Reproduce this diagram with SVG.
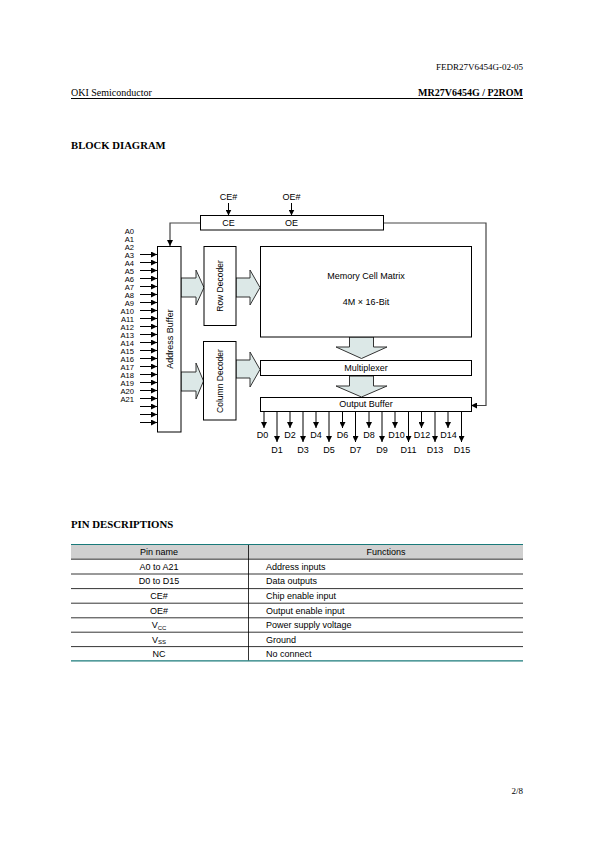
<svg xmlns="http://www.w3.org/2000/svg" width="595" height="842" viewBox="0 0 595 842">
<defs>
<marker id="ah" viewBox="0 0 6 6" refX="6" refY="3" markerWidth="6" markerHeight="6" markerUnits="userSpaceOnUse" orient="auto">
<path d="M0,0 L6,3 L0,6 Z" fill="#000"/>
</marker>
</defs>
<style>
.t{font-family:"Liberation Serif","Times New Roman",serif;fill:#000}
.s{font-family:"Liberation Sans",Arial,sans-serif;fill:#000}
.box{fill:#fff;stroke:#000;stroke-width:1}
.big{fill:#dce8e7;stroke:#333;stroke-width:1}
.ln{fill:none;stroke:#000;stroke-width:1}
.al{fill:none;stroke:#000;stroke-width:1;marker-end:url(#ah)}
.al2{fill:none;stroke:#444;stroke-width:1.2;marker-end:url(#ah)}
</style>
<rect width="595" height="842" fill="#fff"/>

<g id="header">
<text class="t" x="523" y="70" font-size="9" text-anchor="end">FEDR27V6454G-02-05</text>
<text class="t" x="71" y="96" font-size="10">OKI Semiconductor</text>
<text class="t" x="523" y="96" font-size="10" font-weight="bold" text-anchor="end">MR27V6454G / P2ROM</text>
<line x1="71" y1="98.5" x2="523" y2="98.5" stroke="#000" stroke-width="1.2"/>
<text class="t" x="71" y="149" font-size="10.7" font-weight="bold">BLOCK DIAGRAM</text>
</g>

<g id="connectors">
<path class="al2" d="M200,223 H170 V246"/>
<path class="al2" d="M383,223 H486 V405.5 H471"/>
<line class="al" x1="228.5" y1="203" x2="228.5" y2="215.5"/>
<line class="al" x1="291.5" y1="203" x2="291.5" y2="215.5"/>
<g id="addr-arrows">
<line class="al" x1="140" y1="254.5" x2="157" y2="254.5"/>
<line class="al" x1="140" y1="262.5" x2="157" y2="262.5"/>
<line class="al" x1="140" y1="270.5" x2="157" y2="270.5"/>
<line class="al" x1="140" y1="278.5" x2="157" y2="278.5"/>
<line class="al" x1="140" y1="286.5" x2="157" y2="286.5"/>
<line class="al" x1="140" y1="294.5" x2="157" y2="294.5"/>
<line class="al" x1="140" y1="302.5" x2="157" y2="302.5"/>
<line class="al" x1="140" y1="310.5" x2="157" y2="310.5"/>
<line class="al" x1="140" y1="318.5" x2="157" y2="318.5"/>
<line class="al" x1="140" y1="326.5" x2="157" y2="326.5"/>
<line class="al" x1="140" y1="334.5" x2="157" y2="334.5"/>
<line class="al" x1="140" y1="342.5" x2="157" y2="342.5"/>
<line class="al" x1="140" y1="350.5" x2="157" y2="350.5"/>
<line class="al" x1="140" y1="358.5" x2="157" y2="358.5"/>
<line class="al" x1="140" y1="366.5" x2="157" y2="366.5"/>
<line class="al" x1="140" y1="374.5" x2="157" y2="374.5"/>
<line class="al" x1="140" y1="382.5" x2="157" y2="382.5"/>
<line class="al" x1="140" y1="390.5" x2="157" y2="390.5"/>
<line class="al" x1="140" y1="398.5" x2="157" y2="398.5"/>
<line class="al" x1="140" y1="406.5" x2="157" y2="406.5"/>
<line class="al" x1="140" y1="414.5" x2="157" y2="414.5"/>
<line class="al" x1="140" y1="422.5" x2="157" y2="422.5"/>
</g>
<g id="data-arrows">
<line class="al" x1="264" y1="411.5" x2="264" y2="428"/>
<line class="al" x1="277" y1="411.5" x2="277" y2="442"/>
<line class="al" x1="290" y1="411.5" x2="290" y2="428"/>
<line class="al" x1="303" y1="411.5" x2="303" y2="442"/>
<line class="al" x1="316" y1="411.5" x2="316" y2="428"/>
<line class="al" x1="329" y1="411.5" x2="329" y2="442"/>
<line class="al" x1="342.5" y1="411.5" x2="342.5" y2="428"/>
<line class="al" x1="355.5" y1="411.5" x2="355.5" y2="442"/>
<line class="al" x1="369" y1="411.5" x2="369" y2="428"/>
<line class="al" x1="382" y1="411.5" x2="382" y2="442"/>
<line class="al" x1="395" y1="411.5" x2="395" y2="428"/>
<line class="al" x1="408.5" y1="411.5" x2="408.5" y2="442"/>
<line class="al" x1="421.5" y1="411.5" x2="421.5" y2="428"/>
<line class="al" x1="435" y1="411.5" x2="435" y2="442"/>
<line class="al" x1="448" y1="411.5" x2="448" y2="428"/>
<line class="al" x1="461.5" y1="411.5" x2="461.5" y2="442"/>
</g>
<g id="bus-arrows">
<path class="big" d="M181,278 H196 V270 L204,287.5 L196,305 V297 H181 Z"/>
<path class="big" d="M236,278 H250 V270 L260,287.5 L250,305 V297 H236 Z"/>
<path class="big" d="M181,372 H196 V363 L203.5,381 L196,399 V391 H181 Z"/>
<path class="big" d="M236,360 H250 V352 L260,369.5 L250,387 V378 H236 Z"/>
<path class="big" d="M349.5,337 V347 H336 L361.5,358.5 L387,347 H373.5 V337 Z"/>
<path class="big" d="M349.5,376 V386 H336 L361.5,397 L387,386 H373.5 V376 Z"/>
</g>
</g>

<g id="ctrl">
<rect class="box" x="200.5" y="215.5" width="183" height="14.5"/>
<text class="s" x="228.5" y="226" font-size="9" text-anchor="middle">CE</text>
<text class="s" x="291.5" y="226" font-size="9" text-anchor="middle">OE</text>
<text class="s" x="228.5" y="199.5" font-size="9" text-anchor="middle">CE#</text>
<text class="s" x="291.5" y="199.5" font-size="9" text-anchor="middle">OE#</text>
</g>

<g id="addr-labels" class="s" font-size="7.6" text-anchor="end">
<text x="134" y="234.4">A0</text>
<text x="134" y="242.4">A1</text>
<text x="134" y="250.4">A2</text>
<text x="134" y="258.4">A3</text>
<text x="134" y="266.4">A4</text>
<text x="134" y="274.4">A5</text>
<text x="134" y="282.4">A6</text>
<text x="134" y="290.4">A7</text>
<text x="134" y="298.4">A8</text>
<text x="134" y="306.4">A9</text>
<text x="134" y="314.4">A10</text>
<text x="134" y="322.4">A11</text>
<text x="134" y="330.4">A12</text>
<text x="134" y="338.4">A13</text>
<text x="134" y="346.4">A14</text>
<text x="134" y="354.4">A15</text>
<text x="134" y="362.4">A16</text>
<text x="134" y="370.4">A17</text>
<text x="134" y="378.4">A18</text>
<text x="134" y="386.4">A19</text>
<text x="134" y="394.4">A20</text>
<text x="134" y="402.4">A21</text>
</g>

<g id="address-buffer">
<rect class="box" x="157.5" y="246.5" width="23.5" height="185.5"/>
<text class="s" font-size="9" text-anchor="middle" transform="translate(172.5,339) rotate(-90)">Address Buffer</text>
</g>
<g id="row-decoder">
<rect class="box" x="204" y="246.5" width="32" height="79"/>
<text class="s" font-size="8.5" text-anchor="middle" transform="translate(223,286) rotate(-90)">Row Decoder</text>
</g>
<g id="column-decoder">
<rect class="box" x="203.5" y="341.5" width="32.5" height="78.5"/>
<text class="s" font-size="8.5" text-anchor="middle" transform="translate(222.5,381) rotate(-90)">Column Decoder</text>
</g>
<g id="memory">
<rect class="box" x="260.5" y="246.5" width="211" height="90.5"/>
<text class="s" x="366" y="279" font-size="9" text-anchor="middle">Memory Cell Matrix</text>
<text class="s" x="366" y="305" font-size="9" text-anchor="middle">4M × 16-Bit</text>
</g>
<g id="multiplexer">
<rect class="box" x="260.5" y="360.5" width="211" height="15"/>
<text class="s" x="366" y="371.3" font-size="9" text-anchor="middle">Multiplexer</text>
</g>
<g id="output-buffer">
<rect class="box" x="260.5" y="397.5" width="211" height="14"/>
<text class="s" x="366" y="407.3" font-size="9" text-anchor="middle">Output Buffer</text>
</g>

<g id="data-labels" class="s" font-size="9" text-anchor="middle">
<text x="262.5" y="437.5">D0</text>
<text x="277" y="453">D1</text>
<text x="290" y="437.5">D2</text>
<text x="303" y="453">D3</text>
<text x="316" y="437.5">D4</text>
<text x="329" y="453">D5</text>
<text x="342.5" y="437.5">D6</text>
<text x="355.5" y="453">D7</text>
<text x="369" y="437.5">D8</text>
<text x="382" y="453">D9</text>
<text x="396.5" y="437.5">D10</text>
<text x="408.5" y="453">D11</text>
<text x="422" y="437.5">D12</text>
<text x="435" y="453">D13</text>
<text x="448.5" y="437.5">D14</text>
<text x="462" y="453">D15</text>
</g>

<g id="pin-table">
<text class="t" x="71" y="528" font-size="10.8" font-weight="bold">PIN DESCRIPTIONS</text>
<rect x="71" y="544.5" width="452" height="14.5" fill="#d0d0d0"/>
<line x1="71" y1="544.5" x2="523" y2="544.5" stroke="#1a7a7a" stroke-width="1.2"/>
<line x1="71" y1="660.8" x2="523" y2="660.8" stroke="#1a7a7a" stroke-width="1.2"/>
<g stroke="#000" stroke-width="0.8">
<line x1="71" y1="559.2" x2="523" y2="559.2"/>
<line x1="71" y1="574" x2="523" y2="574"/>
<line x1="71" y1="588.6" x2="523" y2="588.6"/>
<line x1="71" y1="603.2" x2="523" y2="603.2"/>
<line x1="71" y1="617.8" x2="523" y2="617.8"/>
<line x1="71" y1="632.2" x2="523" y2="632.2"/>
<line x1="71" y1="646.6" x2="523" y2="646.6"/>
<line x1="248.5" y1="545" x2="248.5" y2="660.3"/>
</g>
<g class="s" font-size="9">
<text x="159" y="555" text-anchor="middle">Pin name</text>
<text x="386" y="555" text-anchor="middle">Functions</text>
<text x="159" y="569.8" text-anchor="middle">A0 to A21</text>
<text x="159" y="584.4" text-anchor="middle">D0 to D15</text>
<text x="159" y="599" text-anchor="middle">CE#</text>
<text x="159" y="613.6" text-anchor="middle">OE#</text>
<text x="159" y="628.2" text-anchor="middle">V<tspan font-size="6" dy="1.5">CC</tspan></text>
<text x="159" y="642.7" text-anchor="middle">V<tspan font-size="6" dy="1.5">SS</tspan></text>
<text x="159" y="657.2" text-anchor="middle">NC</text>
<text x="266" y="569.8">Address inputs</text>
<text x="266" y="584.4">Data outputs</text>
<text x="266" y="599">Chip enable input</text>
<text x="266" y="613.6">Output enable input</text>
<text x="266" y="628.2">Power supply voltage</text>
<text x="266" y="642.7">Ground</text>
<text x="266" y="657.2">No connect</text>
</g>
</g>

<text class="t" x="523" y="794" font-size="9" text-anchor="end">2/8</text>
</svg>
